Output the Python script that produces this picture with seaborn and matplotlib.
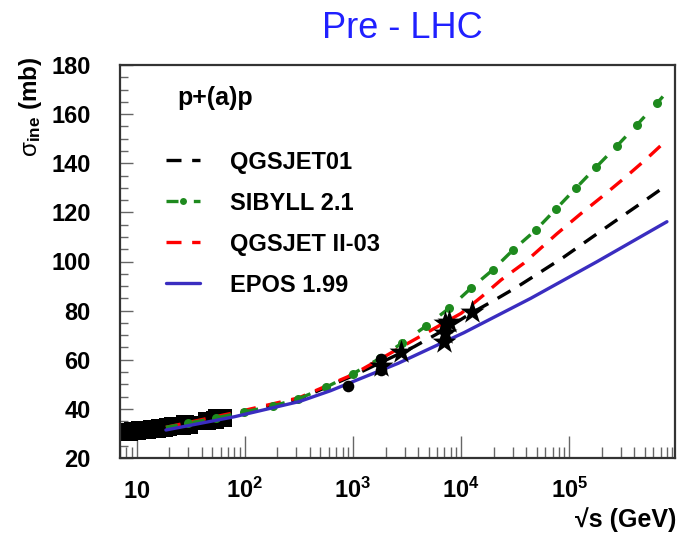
import matplotlib
matplotlib.use("Agg")
import numpy as np
import pandas as pd
import seaborn as sns
import matplotlib.pyplot as plt
from matplotlib.ticker import FixedLocator, FixedFormatter, LogLocator, MultipleLocator, NullFormatter
from matplotlib.lines import Line2D

# ---------------- data ----------------
title = "Pre - LHC"
system_label = "p+(a)p"

epos_sqrt_s = [18.6, 80, 320, 620, 2600, 10600, 44000, 180000, 800000]
epos_sigma = [31.4, 36.8, 43.0, 47.4, 58.5, 71.0, 85.0, 99.9, 116.2]

sibyll_sqrt_s = [18.6, 29.5, 53.7, 97.7, 182, 309, 562, 1000, 1778, 2818, 4732, 7762,
                 12300, 19500, 30200, 49000, 75900, 116000, 178000, 275000, 424000,
                 645000, 804000]
sibyll_sigma = [32.5, 34.1, 36.3, 38.7, 41.2, 44.0, 48.8, 54.3, 60.6, 66.7, 73.7, 81.0,
                89.1, 96.5, 104.7, 112.8, 121.5, 130.0, 138.5, 147.0, 155.7, 164.4, 169.1]

qgsii_sqrt_s = [18.6, 79, 316, 1000, 3160, 10000, 15500, 23400, 38000, 76900, 126500,
                201000, 330000, 524000, 804000]
qgsii_sigma = [32.5, 38.4, 44.5, 54.0, 66.5, 78.9, 85.7, 92.5, 99.3, 111.3, 119.3,
               126.4, 134.3, 142.0, 149.6]

qgs01_sqrt_s = [18.6, 79, 316, 1000, 3670, 7400, 12300, 20400, 33100, 55000, 89000,
                144500, 257000, 457000, 804000]
qgs01_sigma = [32.0, 37.6, 44.0, 53.5, 65.3, 72.8, 78.9, 84.3, 89.7, 95.9, 101.8,
               108.3, 116.0, 123.6, 131.2]

square_sqrt_s = [7.8, 8.5, 9.2, 10, 10.8, 11.5, 12.5, 13.8, 15.3, 16.5, 18, 19.5, 21.5,
                 23.5, 26, 28, 30.5, 44.5, 52.8, 55, 62.5]
square_sigma = [30.7, 30.5, 30.9, 31.0, 31.2, 31.4, 31.2, 31.7, 31.9, 32.2, 32.2, 32.6,
                32.9, 33.2, 33.0, 33.8, 33.4, 35.0, 35.6, 36.3, 36.4]

circle_sqrt_s = [900, 1800, 1800]
circle_sigma = [49.5, 60.5, 56.0]

star_sqrt_s = [1800, 2760, 6900, 7160, 7160, 7800, 12600]
star_sigma = [57.5, 63.3, 67.4, 70.8, 75.0, 75.5, 79.6]

x_ticks = [10, 100, 1000, 10000, 100000]
x_tick_labels = [r"$\mathbf{10}$", r"$\mathbf{10^{2}}$", r"$\mathbf{10^{3}}$",
                 r"$\mathbf{10^{4}}$", r"$\mathbf{10^{5}}$"]
y_ticks = [20, 40, 60, 80, 100, 120, 140, 160, 180]

models = ["QGSJET01", "SIBYLL 2.1", "QGSJET II-03", "EPOS 1.99"]

# ---------------- style ----------------
sns.set_style("white")
plt.rcParams["font.family"] = ["Liberation Sans", "DejaVu Sans"]
plt.rcParams["mathtext.fontset"] = "custom"
plt.rcParams["mathtext.rm"] = "Liberation Sans"
plt.rcParams["mathtext.bf"] = "Liberation Sans:bold"
plt.rcParams["mathtext.it"] = "Liberation Sans:italic"
plt.rcParams["text.color"] = "black"
plt.rcParams["axes.labelcolor"] = "black"
plt.rcParams["xtick.color"] = "black"
plt.rcParams["ytick.color"] = "black"

fig = plt.figure(figsize=(6.79, 5.43), dpi=100)
ax = fig.add_axes([120 / 679, 85 / 543, 555 / 679, 393 / 543])

c_black = "black"
c_green = "#1e8a1e"
c_red = "#ff0000"
c_blue = "#3a2dc0"
lw = 2.4

# data points (squares under lines)
sns.scatterplot(x=square_sqrt_s, y=square_sigma, marker="s", s=150, color="black",
                edgecolor="black", linewidth=0, ax=ax, zorder=1)

dash_black = (0, (4.5, 3.2))
sns.lineplot(x=qgs01_sqrt_s, y=qgs01_sigma, ax=ax, color=c_black, lw=lw,
             linestyle=dash_black, sort=False, estimator=None, zorder=2)
sns.lineplot(x=qgsii_sqrt_s, y=qgsii_sigma, ax=ax, color=c_red, lw=lw,
             linestyle=dash_black, sort=False, estimator=None, zorder=2)
dash_green = (0, (3.6, 4.6))
sns.lineplot(x=sibyll_sqrt_s, y=sibyll_sigma, ax=ax, color=c_green, lw=lw,
             linestyle=dash_green, marker="o", markersize=6.5, markeredgewidth=0,
             markevery=slice(1, -1), sort=False, estimator=None, zorder=2)
sns.lineplot(x=epos_sqrt_s, y=epos_sigma, ax=ax, color=c_blue, lw=lw,
             sort=False, estimator=None, zorder=2)

sns.scatterplot(x=circle_sqrt_s, y=circle_sigma, marker="o", s=70, color="black",
                edgecolor="black", linewidth=0, ax=ax, zorder=3)
sns.scatterplot(x=star_sqrt_s, y=star_sigma, marker="*", s=330, color="black",
                edgecolor="black", linewidth=0, ax=ax, zorder=3)

# ---------------- axes ----------------
ax.set_xscale("log")
ax.set_xlim(7.0, 9.5e5)
ax.set_ylim(20, 180)

ax.xaxis.set_major_locator(FixedLocator(x_ticks))
ax.xaxis.set_major_formatter(FixedFormatter(x_tick_labels))
ax.xaxis.set_minor_locator(LogLocator(base=10, subs=np.arange(2, 10)))
ax.xaxis.set_minor_formatter(NullFormatter())
ax.yaxis.set_major_locator(FixedLocator(y_ticks))
ax.yaxis.set_minor_locator(MultipleLocator(5))

ax.tick_params(axis="both", which="both", direction="in", colors="#666666",
               labelcolor="black", width=1.0, top=False, right=False,
               bottom=True, left=True)
ax.tick_params(axis="x", which="major", length=16, pad=29, labelsize=17)
ax.tick_params(axis="x", which="minor", length=8)
ax.tick_params(axis="y", which="major", length=9, pad=21, labelsize=17)
ax.tick_params(axis="y", which="minor", length=6)
for lbl in ax.get_yticklabels():
    lbl.set_fontweight("bold")
for lbl in ax.get_xticklabels():
    lbl.set_verticalalignment("baseline")

for sp in ax.spines.values():
    sp.set_color("#333333")
    sp.set_linewidth(1.6)

ax.set_xlabel("")
ax.set_ylabel("")

# ---------------- texts ----------------
fig.text(402 / 679, 1 - 28 / 543, title, ha="center", va="center", fontsize=26,
         color="#2020ff")
fig.text(676 / 679, 1 - 520 / 543, "\u221as (GeV)", ha="right", va="center",
         fontsize=18, fontweight="bold")
fig.text(30 / 679, 1 - 57 / 543, r"$\mathrm{\sigma}_{\mathbf{ine}}$ (mb)", rotation=90,
         ha="center", va="top", fontsize=17.5, fontweight="bold")
ax.text(0.103, 0.898, system_label, transform=ax.transAxes, ha="left", va="baseline",
        fontsize=18, fontweight="bold")

handles = [
    Line2D([], [], color=c_black, lw=lw, linestyle=dash_black),
    Line2D([], [], color=c_green, lw=lw, linestyle=dash_green, marker="o",
           markersize=5, markeredgewidth=0),
    Line2D([], [], color=c_red, lw=lw, linestyle=dash_black),
    Line2D([], [], color=c_blue, lw=lw),
]
leg = ax.legend(handles, models, loc="upper left", bbox_to_anchor=(0.083, 0.782),
                frameon=False, borderpad=0, borderaxespad=0, handlelength=1.45,
                handletextpad=1.25, labelspacing=0.76, numpoints=1,
                prop={"family": "Liberation Sans", "weight": "bold", "size": 17})

fig.savefig("out.png", dpi=100)
